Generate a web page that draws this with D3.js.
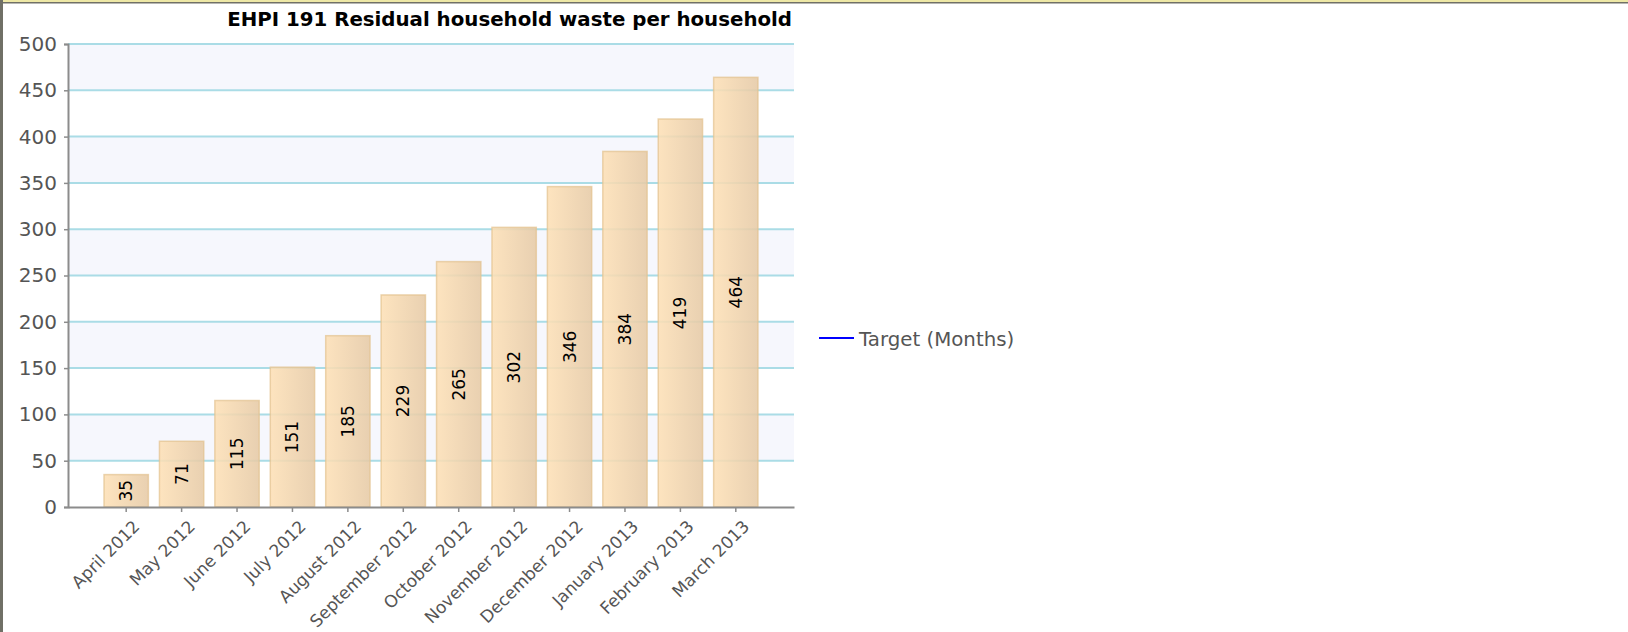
<!DOCTYPE html>
<html><head><meta charset="utf-8">
<script src="https://cdn.jsdelivr.net/npm/d3@7"></script>
<style>
html,body{margin:0;padding:0;background:#fff;}
svg{display:block;}
</style></head>
<body>
<svg id="c" width="1628" height="632"></svg>
<script>
const title = "EHPI 191 Residual household waste per household";
const months = ["April 2012","May 2012","June 2012","July 2012","August 2012","September 2012","October 2012","November 2012","December 2012","January 2013","February 2013","March 2013"];
const values = [35,71,115,151,185,229,265,302,346,384,419,464];
const yTicks = [0,50,100,150,200,250,300,350,400,450,500];
const legendLabel = "Target (Months)";

const svg = d3.select("#c");
const W = 1628, H = 632;
const m = {left:68, right:794, top:44, bottom:507};
const FONT = "DejaVu Sans, Verdana, sans-serif";

// page border
svg.append("rect").attr("x",0).attr("y",0).attr("width",W).attr("height",2).attr("fill","#eee8a6");
svg.append("rect").attr("x",0).attr("y",2).attr("width",W).attr("height",1.5).attr("fill","#707066");
svg.append("rect").attr("x",0).attr("y",0).attr("width",3).attr("height",H).attr("fill","#707066");

const x = d3.scaleBand().domain(months).range([m.left, m.right]).paddingInner(0.2).paddingOuter(0.65);
const y = d3.scaleLinear().domain([0,500]).range([m.bottom, m.top]);

// alternating bands
const bands = d3.pairs(yTicks).filter((d,i)=> i%2===1);
svg.append("g").selectAll("rect").data(bands).join("rect")
  .attr("x", m.left).attr("width", m.right - m.left)
  .attr("y", d=>y(d[1])).attr("height", d=>y(d[0])-y(d[1]))
  .attr("fill","#f6f7fd");

// gridlines
svg.append("g").selectAll("line").data(yTicks.filter(d=>d>0)).join("line")
  .attr("x1", m.left).attr("x2", m.right)
  .attr("y1", d=>y(d)).attr("y2", d=>y(d))
  .attr("stroke","#aadce6").attr("stroke-width",2);

// gradient
const defs = svg.append("defs");
const g = defs.append("linearGradient").attr("id","bg").attr("x1","0").attr("x2","1").attr("y1","0").attr("y2","0");
g.append("stop").attr("offset","0%").attr("stop-color","#fde0b6");
g.append("stop").attr("offset","100%").attr("stop-color","#e6caa6");

svg.append("g").selectAll("rect").data(values).join("rect")
  .attr("x",(d,i)=>x(months[i])).attr("width", x.bandwidth())
  .attr("y", d=>y(d)).attr("height", d=>y(0)-y(d))
  .attr("fill","url(#bg)").attr("fill-opacity",0.88)
  .attr("stroke","#e2c28f").attr("stroke-opacity",0.7).attr("stroke-width",1.5);

// value labels
svg.append("g").selectAll("text").data(values).join("text")
  .attr("transform",(d,i)=>`translate(${x(months[i])+x.bandwidth()/2},${(y(d)+y(0))/2}) rotate(-90)`)
  .attr("text-anchor","middle").attr("dy","0.35em")
  .attr("font-family",FONT).attr("font-size",17)
  .attr("fill","#000").text(d=>d);

// y axis
const ya = svg.append("g").attr("transform",`translate(${m.left},0)`)
  .call(d3.axisLeft(y).tickValues(yTicks).tickSize(4).tickPadding(7));
ya.select(".domain").attr("stroke","#8c8c8c").attr("stroke-width",2);
ya.selectAll(".tick line").attr("stroke","#8c8c8c").attr("stroke-width",1.5);
ya.selectAll(".tick text").attr("font-family",FONT).attr("font-size",20).attr("fill","#555");

// x axis
const xa = svg.append("g").attr("transform",`translate(0,${m.bottom})`)
  .call(d3.axisBottom(x).tickSize(5).tickSizeOuter(0));
xa.select(".domain").attr("stroke","#8c8c8c").attr("stroke-width",2);
xa.selectAll(".tick line").attr("stroke","#8c8c8c").attr("stroke-width",1.5);
xa.selectAll(".tick text")
  .attr("font-family",FONT).attr("font-size",17).attr("fill","#555")
  .attr("text-anchor","end").attr("dy",null).attr("y",null)
  .attr("transform","translate(11,17) rotate(-45)").attr("dominant-baseline","middle");

// title
svg.append("text").attr("x",792).attr("y",26).attr("text-anchor","end")
  .attr("font-family",FONT).attr("font-weight","bold").attr("font-size",19.8)
  .attr("fill","#000").text(title);

// legend
const ly = 338;
svg.append("line").attr("x1",819).attr("x2",854).attr("y1",ly).attr("y2",ly).attr("stroke","#0000ff").attr("stroke-width",2);
svg.append("text").attr("x",859).attr("y",ly).attr("dy","0.4em")
  .attr("font-family",FONT).attr("font-size",19.8).attr("fill","#555").text(legendLabel);
</script>
</body></html>
